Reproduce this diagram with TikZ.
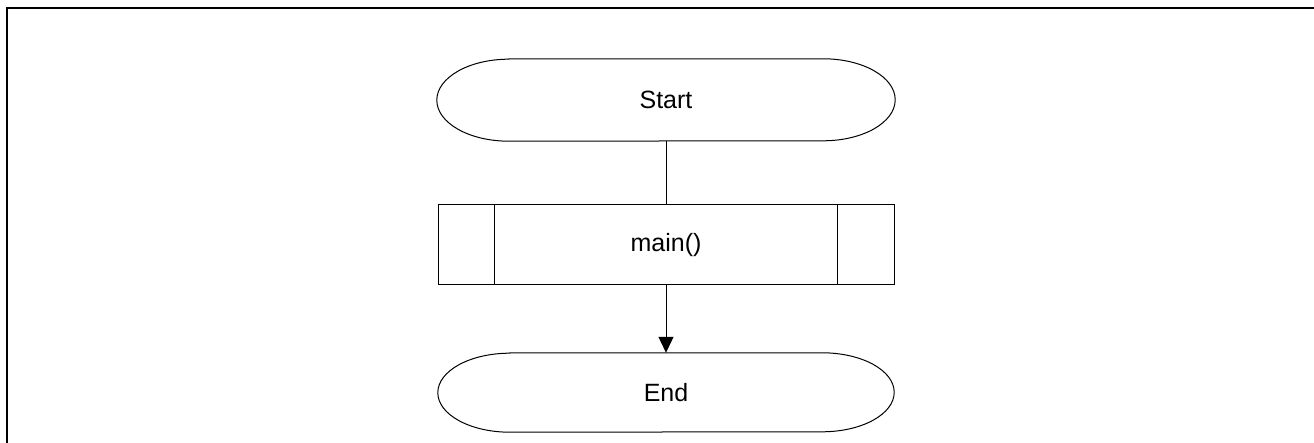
\documentclass[tikz,border=0pt]{standalone}
\usepackage{fontspec}
\setmainfont{Liberation Sans}
\usetikzlibrary{arrows.meta}
\tikzset{
  lbl/.style={font=\fontsize{25}{30}\selectfont, inner sep=0pt},
  terminal/.style={lbl, minimum width=458pt, minimum height=82pt},
  subproc/.style={lbl, draw, line width=1pt, minimum width=456pt, minimum height=80pt},
  conn/.style={line width=1pt},
  framestyle/.style={line width=2pt},
  flowarrow/.style={conn, -{Triangle[width=15pt,length=16pt]}}
}
\newcommand\termoutline[2]{%
  \draw[conn] ([xshift=72pt]#1.north west) -- ([xshift=-72pt]#1.north east)
    arc[start angle=90,end angle=-90,x radius=72pt,y radius=#2]
    -- ([xshift=72pt]#1.south west)
    arc[start angle=270,end angle=90,x radius=72pt,y radius=#2] -- cycle;}
\begin{document}
\begin{tikzpicture}[x=1pt,y=1pt]
  \useasboundingbox (0,0) rectangle (1314,443);
  \draw[framestyle] (1314,435) -- (7,435) -- (7,0);

  \node[terminal] (start) at (666,343) {Start};
  \termoutline{start}{41pt}

  \node[subproc] (main) at (666,198) {main()};
  \draw[conn] ([xshift=57pt]main.north west) -- ([xshift=57pt]main.south west);
  \draw[conn] ([xshift=-57pt]main.north east) -- ([xshift=-57pt]main.south east);

  \node[terminal, minimum width=456pt, minimum height=79pt] (stop) at (666,50.5) {End};
  \termoutline{stop}{39.5pt}

  \draw[conn] (start) -- (main);
  \draw[flowarrow] (main) -- (stop);
\end{tikzpicture}
\end{document}
